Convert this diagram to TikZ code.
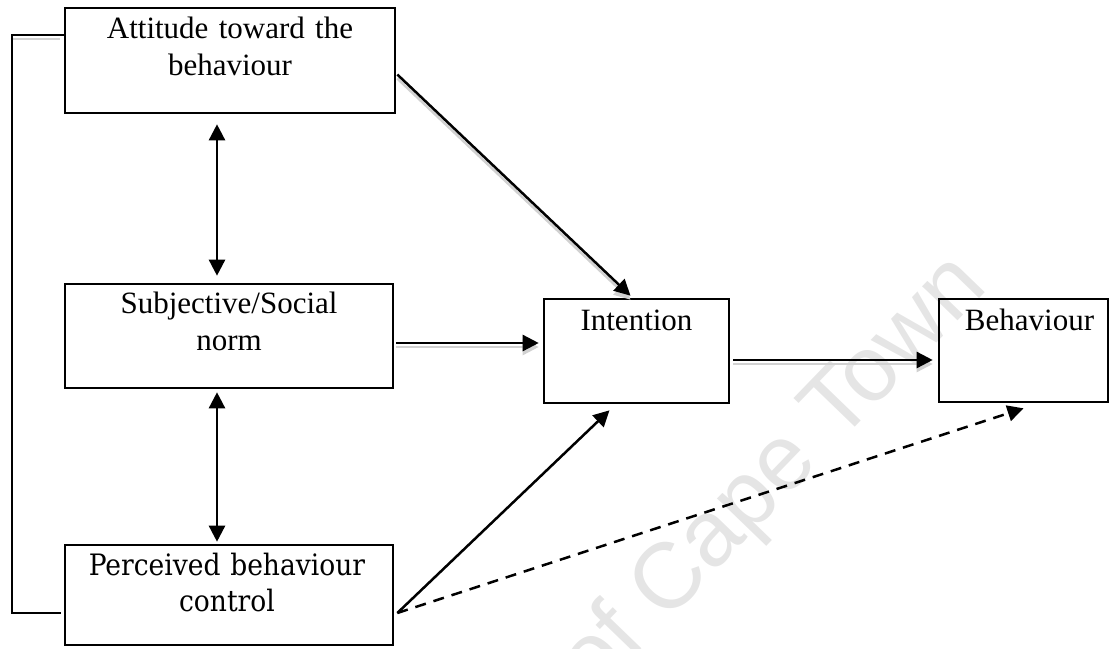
\documentclass[tikz,border=0pt]{standalone}
\usepackage{fontspec}
\setmainfont{Liberation Serif}
\newfontfamily\pbcfont{DejaVu Serif Condensed}
\newfontfamily\wmfont{Liberation Sans}
\usetikzlibrary{arrows.meta,calc}

\begin{document}
\begin{tikzpicture}[x=1pt, y=-1pt,
  box/.style 2 args={draw, line width=2.6pt, minimum width=#1, minimum height=#2, inner sep=0pt},
  lbl/.style={anchor=base, inner sep=0pt, text width=#1, align=center,
              font=\fontsize{31}{37}\selectfont},
  lbl/.default=300pt,
  conn/.style={line width=2.5pt},
  onehead/.style={-{Triangle[length=16pt,width=16pt]}},
  twohead/.style={{Triangle[length=16pt,width=16pt]}-{Triangle[length=16pt,width=16pt]}},
  ghost/.style={draw=black!18, line width=2.5pt, transform canvas={yshift=-4pt}},
  wm/.style={text=black!10, font=\wmfont\fontsize{93}{93}\selectfont,
             rotate=46, anchor=base, inner sep=0pt}
]
\useasboundingbox (0,0) rectangle (1111,648);

% faint watermark behind the diagram
\node[wm] (wmark) at (792,493) {of Cape Town};

% boxes
\node[box={330pt}{105pt}] (A) at (230,60.5) {};
\node[box={328pt}{104pt}] (S) at (229,336) {};
\node[box={328pt}{100pt}] (P) at (229,595) {};
\node[box={185pt}{104pt}] (I) at (636.5,351) {};
\node[box={169pt}{103pt}] (B) at (1023.5,350.5) {};

% box texts, set at the top of each box
\node[lbl] (At) at ($(A.north)+(0,32)$) {Attitude toward the\\behaviour};
\node[lbl] (St) at ($(S.north)+(0,31)$) {Subjective/Social\\norm};
\node[lbl, font=\pbcfont\fontsize{29.5}{36}\selectfont] (Pt) at ($(P.north)+(-2,32)$) {Perceived behaviour\\control};
\node[lbl=180pt] (It) at ($(I.north)+(0,33)$) {Intention};
\node[lbl=169pt] (Bt) at ($(B.north)+(6,33)$) {Behaviour};

% left bracket linking attitude and perceived control
\draw[ghost] ($(A.west)+(-4,-25.5)$) -- ($(A.west)+(-52,-25.5)$);
\draw[line width=1.8pt] ($(A.west)+(0,-25.5)$) -| ($(P.west)+(-52,18)$) -- ($(P.west)+(-3,18)$);

% correlations between the predictors
\draw[conn, twohead] ($(A.south)+(-13,10)$) -- ($(S.north)+(-12,-7)$);
\draw[conn, twohead] ($(S.south)+(-12,3)$) -- ($(P.north)+(-12,-2)$);

% paths into intention
\draw[ghost, onehead] ($(A.east)+(1,14)$) -- ($(I.north)+(-6,-2)$);
\draw[conn, onehead] ($(A.east)+(1,14)$) -- ($(I.north)+(-6,-2)$);
\draw[ghost, onehead] ($(S.east)+(2,7)$) -- ($(I.west)+(-4,-8)$);
\draw[conn, onehead] ($(S.east)+(2,7)$) -- ($(I.west)+(-4,-8)$);
\draw[conn, onehead] ($(P.east)+(3,18)$) -- ($(I.south)+(-27,6)$);

% intention to behaviour
\draw[ghost, onehead] ($(I.east)+(3,9)$) -- ($(B.west)+(-5,9.5)$);
\draw[conn, onehead] ($(I.east)+(3,9)$) -- ($(B.west)+(-5,9.5)$);

% direct path from perceived control to behaviour
\draw[conn, onehead, dash pattern=on 11pt off 8pt] ($(P.east)+(3,18)$) -- ($(B.south)+(0,5)$);
\end{tikzpicture}
\end{document}
